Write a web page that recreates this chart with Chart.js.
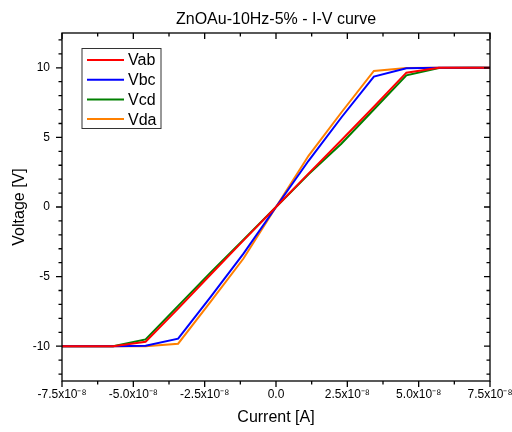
<!DOCTYPE html>
<html>
<head>
<meta charset="utf-8">
<script src="https://cdn.jsdelivr.net/npm/chart.js@4.4.0/dist/chart.umd.min.js"></script>
<style>
    html, body { margin: 0; padding: 0; background: #fff; }
</style>
</head>
<body>
<canvas id="ivCurve" width="512" height="432"></canvas>
<script>
// courant (A) et tensions
const currents = [-8.0e-8, -6.86e-8, -5.71e-8, -4.57e-8, -3.43e-8, -2.29e-8, -1.14e-8, 0, 1.14e-8, 2.29e-8, 3.43e-8, 4.57e-8, 5.71e-8, 6.86e-8, 8.0e-8];
const vab = [-10, -10, -10, -9.68, -7.3, -4.85, -2.4, 0, 2.4, 4.8, 7.2, 9.65, 10, 10, 10];
const vbc = [-10, -10, -10, -9.97, -9.46, -6.45, -3.35, 0, 3.32, 6.43, 9.37, 9.97, 10, 10, 10];
const vcd = [-10, -10, -10, -9.51, -7.1, -4.7, -2.35, 0, 2.35, 4.55, 7.0, 9.46, 9.98, 10, 10];
const vda = [-10, -10, -10, -10, -9.82, -6.8, -3.7, 0, 3.68, 6.79, 9.77, 9.99, 10, 10, 10];

const seriesNames = ['Vab', 'Vbc', 'Vcd', 'Vda'];
const seriesColors = ['#ff0000', '#0000ff', '#008000', '#ff8000'];

const xTickValues = [-7.5e-8, -5.0e-8, -2.5e-8, 0, 2.5e-8, 5.0e-8, 7.5e-8];
const xTickLabels = ['-7.5x10\u207B\u2078', '-5.0x10\u207B\u2078', '-2.5x10\u207B\u2078', '0.0', '2.5x10\u207B\u2078', '5.0x10\u207B\u2078', '7.5x10\u207B\u2078'];
const yTickValues = [-10, -5, 0, 5, 10];
const yTickLabels = ['-10', '-5', '0', '5', '10'];

const chartTitle = 'ZnOAu-10Hz-5% - I-V curve';
const FONT = 'Liberation Sans, Arial, sans-serif';

function makeDataset(name, values, color) {
    return {
        label: name,
        data: currents.map((c, i) => ({x: c, y: values[i]})),
        borderColor: color,
        backgroundColor: color,
        borderWidth: 2,
        pointRadius: 0,
        tension: 0,
        fill: false,
    };
}

// cadre, graduations, titre et légende façon Origin
const framePlugin = {
    id: 'frame',
    afterDatasetsDraw(chart) {
        const {ctx, chartArea: a, scales: {x, y}} = chart;
        ctx.save();
        ctx.strokeStyle = '#000';
        ctx.lineWidth = 1.3;
        ctx.strokeRect(a.left, a.top, a.right - a.left, a.bottom - a.top);

        ctx.beginPath();
        for (let i = -6; i <= 6; i++) {
            const px = x.getPixelForValue(i * 1.25e-8);
            const len = i % 2 === 0 ? 6 : 3.5;
            ctx.moveTo(px, a.bottom); ctx.lineTo(px, a.bottom + len);
            ctx.moveTo(px, a.top); ctx.lineTo(px, a.top + len);
        }
        for (let i = -12; i <= 12; i++) {
            const py = y.getPixelForValue(i);
            const len = i % 5 === 0 ? 6 : 3.5;
            ctx.moveTo(a.left, py); ctx.lineTo(a.left - len, py);
            ctx.moveTo(a.right, py); ctx.lineTo(a.right - len, py);
        }
        ctx.stroke();

        // titre centré sur la zone du graphique
        ctx.fillStyle = '#000';
        ctx.font = '16px ' + FONT;
        ctx.textAlign = 'center';
        ctx.textBaseline = 'middle';
        ctx.fillText(chartTitle, (a.left + a.right) / 2, 20);

        // légende
        ctx.textAlign = 'left';
        ctx.lineWidth = 1;
        ctx.strokeStyle = '#333';
        ctx.strokeRect(82, 48.5, 79, 80);
        chart.data.datasets.forEach((ds, i) => {
            const ly = 60 + i * 19.7;
            ctx.strokeStyle = ds.borderColor;
            ctx.lineWidth = 2;
            ctx.beginPath();
            ctx.moveTo(87, ly);
            ctx.lineTo(124, ly);
            ctx.stroke();
            ctx.fillText(ds.label, 128, ly + 1);
        });
        ctx.restore();
    }
};

const ctxIV = document.getElementById('ivCurve').getContext('2d');

window.ivChart = new Chart(ctxIV, {
    type: 'line',
    data: {
        datasets: [
            makeDataset(seriesNames[0], vab, seriesColors[0]),
            makeDataset(seriesNames[1], vbc, seriesColors[1]),
            makeDataset(seriesNames[2], vcd, seriesColors[2]),
            makeDataset(seriesNames[3], vda, seriesColors[3]),
        ],
    },
    options: {
        responsive: false,
        animation: false,
        devicePixelRatio: 1,
        layout: {padding: {top: 33, right: 22, bottom: 0, left: 0}},
        plugins: {
            legend: {display: false},
            tooltip: {enabled: false},
            title: {display: false},
        },
        scales: {
            x: {
                type: 'linear',
                position: 'bottom',
                min: -7.5e-8,
                max: 7.5e-8,
                grid: {display: false, drawTicks: false},
                border: {display: false},
                afterBuildTicks: (scale) => {
                    scale.ticks = xTickValues.map(v => ({value: v}));
                },
                afterFit: (scale) => {
                    scale.height = 51;
                    scale.paddingLeft = 0;
                    scale.paddingRight = 0;
                },
                ticks: {
                    autoSkip: false,
                    maxRotation: 0,
                    padding: 6,
                    color: '#000',
                    font: {family: FONT, size: 12},
                    callback: (value, index) => xTickLabels[index],
                },
                title: {
                    display: true,
                    text: 'Current [A]',
                    color: '#000',
                    font: {family: FONT, size: 16},
                    padding: {top: 0, bottom: 5},
                },
            },
            y: {
                type: 'linear',
                min: -12.5,
                max: 12.5,
                grid: {display: false, drawTicks: false},
                border: {display: false},
                afterBuildTicks: (scale) => {
                    scale.ticks = yTickValues.map(v => ({value: v}));
                },
                afterFit: (scale) => {
                    scale.width = 62;
                    scale.paddingTop = 0;
                    scale.paddingBottom = 0;
                },
                ticks: {
                    padding: 12,
                    color: '#000',
                    font: {family: FONT, size: 12},
                    callback: (value, index) => yTickLabels[index],
                },
                title: {
                    display: true,
                    text: 'Voltage [V]',
                    color: '#000',
                    font: {family: FONT, size: 16},
                    padding: {top: 9.5, bottom: 0},
                },
            },
        },
    },
    plugins: [framePlugin],
});
</script>
</body>
</html>
